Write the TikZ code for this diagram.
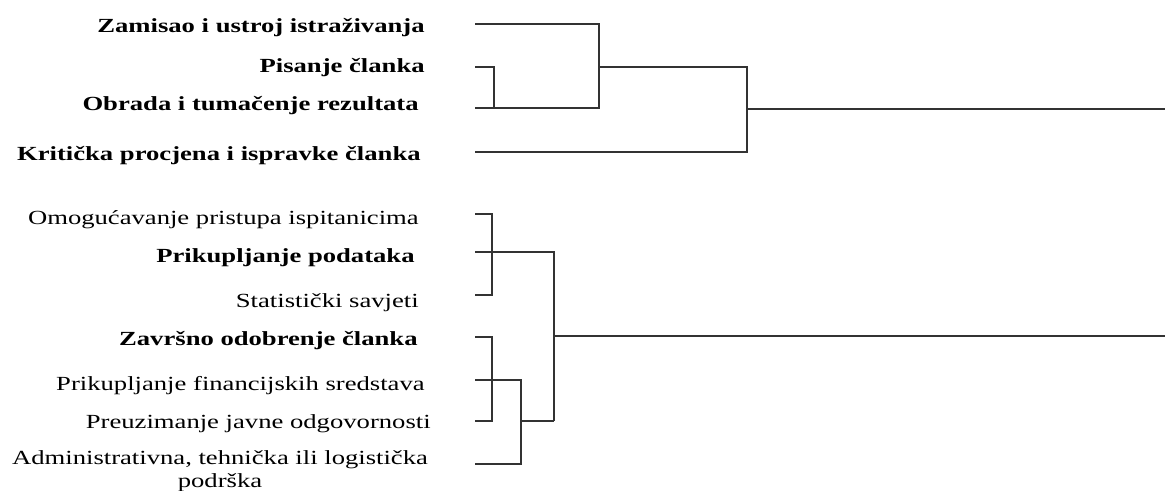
\documentclass[tikz,border=0pt]{standalone}
\usepackage{fontspec}
\setmainfont{Liberation Serif}[FakeStretch=1.33]
\begin{document}
\begin{tikzpicture}[
    x=0.02cm, y=-0.02cm,
  lab/.style={anchor=base east, inner sep=0pt, font=\fontsize{11.4}{13}\selectfont},
  blab/.style={lab, font=\fontsize{11.4}{13}\selectfont\bfseries},
  br/.style={draw=black!80, line width=1.1pt}
]
\useasboundingbox (0,0) rectangle (1165,490);

% --- labels, upper group ---
\node[blab] (zam) at (425,32)  {Zamisao i ustroj istraživanja};
\node[blab] (pis) at (425,72)  {Pisanje članka};
\node[blab] (obr) at (419,110) {Obrada i tumačenje rezultata};
\node[blab] (kri) at (421,160) {Kritička procjena i ispravke članka};

% --- labels, lower group ---
\node[lab]  (omo) at (419,224) {Omogućavanje pristupa ispitanicima};
\node[blab] (pri) at (415,262) {Prikupljanje podataka};
\node[lab]  (sta) at (419,307) {Statistički savjeti};
\node[blab] (zav) at (418,345) {Završno odobrenje članka};
\node[lab]  (fin) at (425,390) {Prikupljanje financijskih sredstava};
\node[lab]  (pre) at (431,428) {Preuzimanje javne odgovornosti};
\node[lab, anchor=base, align=center] (adm) at (220,487) {Administrativna, tehnička ili logistička\\podrška};

% --- leaf ends and merge points ---
\coordinate (zam-e) at (475,24);
\coordinate (pis-e) at (475,67);
\coordinate (obr-e) at (475,108);
\coordinate (kri-e) at (475,152);
\coordinate (m1) at (494,108);
\coordinate (m2) at (599,67);
\coordinate (m3) at (747,109);
\coordinate (root1) at (1165,109);

\coordinate (omo-e) at (475,214);
\coordinate (pri-e) at (475,252);
\coordinate (sta-e) at (475,295);
\coordinate (zav-e) at (475,337);
\coordinate (fin-e) at (475,380);
\coordinate (pre-e) at (475,421);
\coordinate (adm-e) at (475,464);
\coordinate (n1) at (492,252);
\coordinate (n2) at (521,421);
\coordinate (n3) at (554,336);
\coordinate (root2) at (1165,336);

% --- upper tree ---
\draw[br] (pis-e) -| (m1);
\draw[br] (zam-e) -| (obr-e -| m2) -- (obr-e);
\draw[br] (m2) -| (kri-e -| m3) -- (kri-e);
\draw[br] (m3) -- (root1);

% --- lower tree ---
\draw[br] (omo-e) -| (sta-e -| n1) -- (sta-e);
\draw[br] (zav-e) -| (pre-e -| n1) -- (pre-e);
\draw[br] (fin-e) -| (adm-e -| n2) -- (adm-e);
\draw[br] (n2) -- (pre-e -| n3);
\draw[br] (pri-e) -| (pre-e -| n3);
\draw[br] (n3) -- (root2);
\end{tikzpicture}
\end{document}
